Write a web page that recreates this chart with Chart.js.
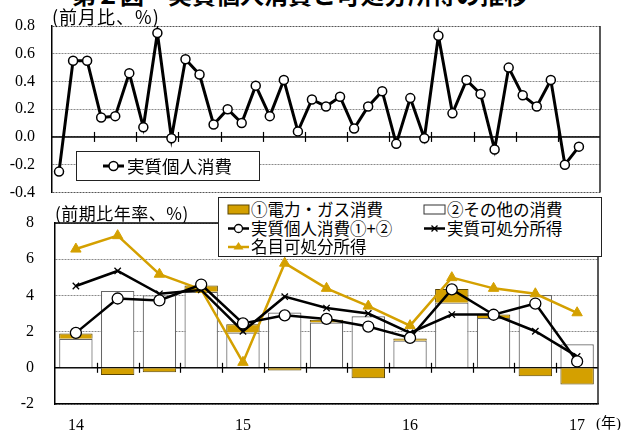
<!DOCTYPE html>
<html>
<head>
<meta charset="utf-8">
<script src="https://cdn.jsdelivr.net/npm/chart.js@4.4.1/dist/chart.umd.min.js"></script>
<style>
  body { margin: 0; width: 623px; height: 430px; overflow: hidden; background: #fff; position: relative;
         font-family: 'Noto Sans CJK JP', sans-serif; color: #000; }
  canvas { position: absolute; left: 0; }
  .txt { position: absolute; white-space: nowrap; }
  .legend { position: absolute; background: #fff; border: 1px solid #222; box-sizing: border-box; z-index: 2; }
  .item { position: absolute; white-space: nowrap; height: 19px; line-height: 19px; font-size: 16.5px; }
  .item svg { position: absolute; left: 0; top: 0; }
  .item span { position: absolute; top: 0; }
</style>
</head>
<body>
<div class="txt" style="left:72px;top:-18px;font-size:24px;line-height:24px;font-weight:bold;">第２図　実質個人消費と可処分所得の推移</div>
<div class="txt" style="left:52px;top:6px;font-size:18px;line-height:20px;letter-spacing:1px;z-index:2;">(前月比、%)</div>
<canvas id="c1" width="623" height="202" style="top:0"></canvas>

<div class="legend" style="left:76px;top:151px;width:184px;height:30px;">
  <div class="item" style="left:25px;top:4px;height:20px;font-size:17.5px;line-height:20px;">
    <svg width="24" height="20"><line x1="1" y1="10" x2="22" y2="10" stroke="#000" stroke-width="3"/><circle cx="11.5" cy="10" r="4.5" fill="#fff" stroke="#000" stroke-width="1.5"/></svg>
    <span style="left:25px;">実質個人消費</span>
  </div>
</div>

<div class="txt" style="left:55px;top:203px;font-size:17px;line-height:20px;letter-spacing:0.5px;z-index:1;">(前期比年率、%)</div>
<canvas id="c2" width="623" height="235" style="top:195px"></canvas>

<div class="legend" style="left:218px;top:197px;width:384px;height:60px;">
  <div class="item" style="left:8px;top:2px;">
    <svg width="24" height="19"><rect x="1" y="5" width="21" height="9" fill="#D4A000" stroke="#5a4400" stroke-width="1"/></svg>
    <span style="left:24px;">①電力・ガス消費</span>
  </div>
  <div class="item" style="left:204px;top:2px;">
    <svg width="24" height="19"><rect x="1" y="5" width="21" height="9" fill="#fff" stroke="#333" stroke-width="1"/></svg>
    <span style="left:24px;">②その他の消費</span>
  </div>
  <div class="item" style="left:8px;top:21px;">
    <svg width="24" height="19"><line x1="1" y1="9.5" x2="22" y2="9.5" stroke="#000" stroke-width="2.5"/><circle cx="11.5" cy="9.5" r="4" fill="#fff" stroke="#000" stroke-width="1.3"/></svg>
    <span style="left:24px;">実質個人消費①+②</span>
  </div>
  <div class="item" style="left:204px;top:21px;">
    <svg width="24" height="19"><line x1="1" y1="9.5" x2="22" y2="9.5" stroke="#000" stroke-width="2.5"/><path d="M8.5 6.5 L14.5 12.5 M14.5 6.5 L8.5 12.5" stroke="#000" stroke-width="1.3"/></svg>
    <span style="left:24px;">実質可処分所得</span>
  </div>
  <div class="item" style="left:8px;top:39px;">
    <svg width="24" height="19"><line x1="1" y1="10" x2="22" y2="10" stroke="#D4A000" stroke-width="2.5"/><path d="M11.5 5 L16.5 12.5 L6.5 12.5 Z" fill="#D4A000"/></svg>
    <span style="left:24px;">名目可処分所得</span>
  </div>
</div>

<div class="txt" style="left:596px;top:413px;font-size:15px;line-height:20px;font-family:'Liberation Serif','Noto Sans CJK JP';">(年)</div>

<script>
// monthly: real private consumption, m/m %
const months = ['14/1','14/2','14/3','14/4','14/5','14/6','14/7','14/8','14/9','14/10','14/11','14/12',
  '15/1','15/2','15/3','15/4','15/5','15/6','15/7','15/8','15/9','15/10','15/11','15/12',
  '16/1','16/2','16/3','16/4','16/5','16/6','16/7','16/8','16/9','16/10','16/11','16/12',
  '17/1','17/2','17/3'];
const consumptionMoM = [-0.25, 0.55, 0.55, 0.14, 0.15, 0.46, 0.07, 0.75, -0.01, 0.56, 0.45, 0.09,
  0.20, 0.10, 0.37, 0.15, 0.41, 0.04, 0.27, 0.22, 0.29, 0.06, 0.22, 0.33,
  -0.05, 0.28, -0.01, 0.73, 0.17, 0.41, 0.31, -0.09, 0.50, 0.30, 0.22, 0.41,
  -0.20, -0.07, null];
const momTicks = [-0.4, -0.2, 0.0, 0.2, 0.4, 0.6, 0.8];

// quarterly, annualised q/q %
const quarterLabels = ['14', '', '', '', '15', '', '', '', '16', '', '', '', '17'];
const energyCons = [0.30, -0.40, -0.25, 0.35, 0.45, -0.15, 0.15, -0.58, 0.12, 0.75, 0.20, -0.47, -0.92];
const otherCons  = [1.60, 4.25, 4.00, 4.20, 1.95, 3.05, 2.50, 2.85, 1.50, 3.60, 2.75, 4.02, 1.30];
const realCons   = [1.93, 3.83, 3.72, 4.60, 2.45, 2.90, 2.70, 2.28, 1.65, 4.33, 2.93, 3.55, 0.35];
const realDisp   = [4.52, 5.35, 4.09, 4.30, 2.02, 3.93, 3.30, 3.00, 1.93, 2.94, 2.94, 2.02, 0.63];
const nominalDisp= [6.56, 7.30, 5.17, 4.33, 0.30, 5.78, 4.39, 3.41, 2.33, 4.98, 4.39, 4.09, 3.04];

const GOLD = '#D4A000';
const serif = { family: 'Liberation Serif', size: 16 };
Chart.defaults.animation = false;
Chart.defaults.plugins.legend.display = false;
Chart.defaults.plugins.tooltip.enabled = false;

// zero line, short tick marks on it, right edge of the frame
function framePlugin(step, topSolid) {
  return {
    id: 'frame',
    beforeDatasetsDraw(chart) {
      const { ctx, chartArea: a, scales: { x, y } } = chart;
      const y0 = y.getPixelForValue(0);
      ctx.save();
      ctx.strokeStyle = '#000';
      ctx.lineWidth = 1.5;
      ctx.beginPath(); ctx.moveTo(a.left, y0); ctx.lineTo(a.right, y0); ctx.stroke();
      ctx.lineWidth = 1.2;
      const n = x.getLabels().length;
      for (let i = step; i < n; i += step) {
        const px = Math.round((x.getPixelForValue(i - 1) + x.getPixelForValue(i)) / 2) + 0.5;
        ctx.beginPath(); ctx.moveTo(px, y0 - 5); ctx.lineTo(px, y0 + 5); ctx.stroke();
      }
      ctx.strokeStyle = '#222';
      ctx.lineWidth = 1.5;
      ctx.beginPath(); ctx.moveTo(a.right, a.top); ctx.lineTo(a.right, a.bottom); ctx.stroke();
      if (topSolid) {
        ctx.strokeStyle = '#000';
        ctx.beginPath(); ctx.moveTo(a.left, a.top); ctx.lineTo(a.right, a.top); ctx.stroke();
      }
      ctx.restore();
    }
  };
}

new Chart(document.getElementById('c1').getContext('2d'), {
  type: 'line',
  data: {
    labels: months,
    datasets: [{
      label: '実質個人消費', data: consumptionMoM,
      borderColor: '#000', borderWidth: 3, tension: 0,
      pointRadius: 4.5, pointBackgroundColor: '#fff', pointBorderColor: '#000', pointBorderWidth: 1.5
    }]
  },
  options: {
    responsive: false,
    layout: { padding: { top: 26, bottom: 8, right: 23, left: 0 } },
    scales: {
      x: { type: 'category', offset: true, display: false },
      y: {
        min: -0.4, max: 0.8,
        afterBuildTicks: (s) => { s.ticks = momTicks.map(v => ({ value: v })); },
        afterFit: (s) => { s.width = 52; },
        ticks: { callback: (v) => Number(v).toFixed(1), font: serif, color: '#000', padding: 0 },
        // invisible tick marks push the labels away from the axis
        grid: {
          drawTicks: true, tickLength: 17, tickColor: 'rgba(0,0,0,0)', lineWidth: 1,
          color: (c) => (c.tick && (c.tick.value === 0.8 || c.tick.value === -0.4)) ? '#555' : '#8a8a8a'
        },
        border: { color: '#000', width: 1.5, dash: [2, 1] }
      }
    }
  },
  plugins: [framePlugin(3, false)]
});

new Chart(document.getElementById('c2').getContext('2d'), {
  type: 'bar',
  data: {
    labels: quarterLabels,
    datasets: [
      { type: 'bar', label: '②その他の消費', data: otherCons, backgroundColor: '#fff', borderColor: '#666',
        borderWidth: 1.2, stack: 'cons', order: 3, barPercentage: 0.8, categoryPercentage: 1 },
      { type: 'bar', label: '①電力・ガス消費', data: energyCons, backgroundColor: GOLD, borderColor: '#5a4400',
        borderWidth: 1, stack: 'cons', order: 3, barPercentage: 0.8, categoryPercentage: 1 },
      { type: 'line', label: '名目可処分所得', data: nominalDisp, stack: 'nom', order: 2,
        borderColor: GOLD, borderWidth: 2.5, tension: 0,
        pointStyle: 'triangle', pointRadius: 6, pointBackgroundColor: GOLD, pointBorderColor: GOLD, pointBorderWidth: 1 },
      { type: 'line', label: '実質可処分所得', data: realDisp, stack: 'real', order: 1,
        borderColor: '#000', borderWidth: 2.5, tension: 0,
        pointStyle: 'crossRot', pointRadius: 4.5, pointBorderColor: '#000', pointBorderWidth: 1.3 },
      { type: 'line', label: '実質個人消費①+②', data: realCons, stack: 'rc', order: 0,
        borderColor: '#000', borderWidth: 2.5, tension: 0,
        pointRadius: 5.5, pointBackgroundColor: '#fff', pointBorderColor: '#000', pointBorderWidth: 1.3 }
    ]
  },
  options: {
    responsive: false,
    layout: { padding: { top: 28, bottom: 0, right: 25, left: 0 } },
    scales: {
      x: {
        stacked: true, offset: true,
        grid: { display: false, drawTicks: false },
        border: { color: '#000', width: 1.5 },
        ticks: { autoSkip: false, maxRotation: 0, font: serif, color: '#000', padding: 12 },
        afterFit: (s) => { s.height = 26; }
      },
      y: {
        stacked: true, min: -2, max: 8,
        ticks: { stepSize: 2, font: serif, color: '#000', padding: 0 },
        afterFit: (s) => { s.width = 55; },
        grid: { drawTicks: true, tickLength: 21, tickColor: 'rgba(0,0,0,0)', lineWidth: 1, color: '#8a8a8a' },
        border: { color: '#000', width: 1.5, dash: [2, 1] }
      }
    }
  },
  plugins: [framePlugin(1, true)]
});
</script>
</body>
</html>
